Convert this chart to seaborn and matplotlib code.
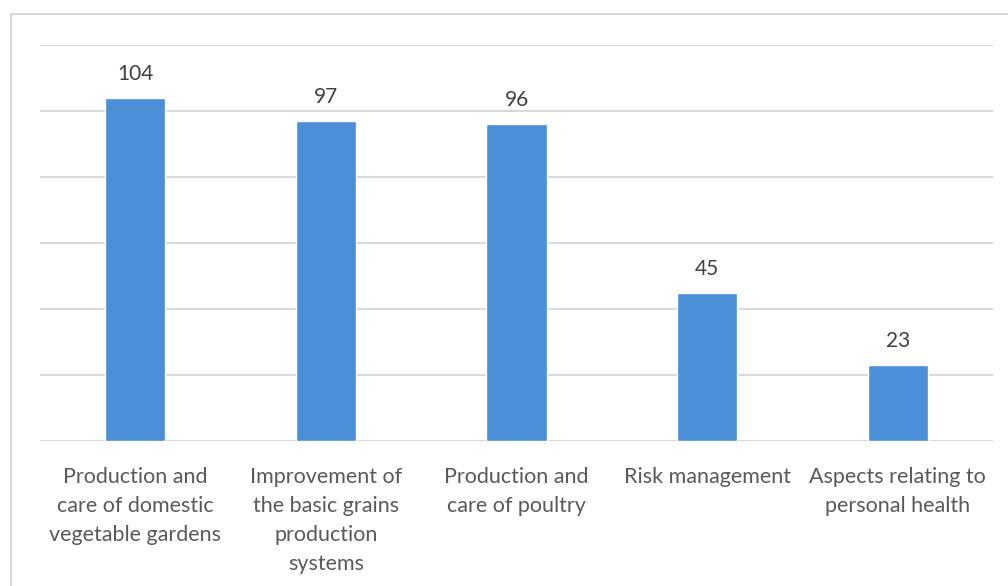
import matplotlib
matplotlib.use("Agg")
import matplotlib.pyplot as plt
import seaborn as sns
import pandas as pd
from matplotlib.patches import Rectangle

categories = [
    "Production and\ncare of domestic\nvegetable gardens",
    "Improvement of\nthe basic grains\nproduction\nsystems",
    "Production and\ncare of poultry",
    "Risk management",
    "Aspects relating to\npersonal health",
]
counts = [104, 97, 96, 45, 23]
gridline_values = [0, 20, 40, 60, 80, 100, 120]

df = pd.DataFrame({"topic": categories, "count": counts})

sns.set_theme(style="white")
plt.rcParams["font.family"] = ["Lato", "DejaVu Sans"]

W, H = 1008, 586
fig = plt.figure(figsize=(W / 100, H / 100), dpi=100)
fig.patch.set_facecolor("white")

# outer chart frame
fig.patches.append(Rectangle((11 / W, -0.1), 1.2, 1.1 - 14 / H,
                             transform=fig.transFigure, fill=False,
                             edgecolor="#d0d0d0", linewidth=1.2))

left, right = 40 / W, 993 / W
bottom, top = 1 - 441 / H, 1 - 45 / H
ax = fig.add_axes([left, bottom, right - left, top - bottom])

bar_color = "#4A8FD8"
sns.barplot(data=df, x="topic", y="count", color=bar_color, width=0.315,
            saturation=1, ax=ax, zorder=3)

ax.set_ylim(0, 120)
ax.set_xlim(-0.5, len(categories) - 0.5)
ax.set_yticks(gridline_values)
ax.yaxis.grid(True, color="#d9d9d9", linewidth=1.5, zorder=0)
ax.set_axisbelow(True)
ax.tick_params(axis="y", left=False, labelleft=False)
ax.tick_params(axis="x", bottom=False, pad=13, labelsize=15.5,
               labelcolor="#595959")
for lbl in ax.get_xticklabels():
    lbl.set_linespacing(1.56)
    lbl.set_verticalalignment("top")
ax.set_xlabel("")
ax.set_ylabel("")
for side in ["top", "right", "left", "bottom"]:
    ax.spines[side].set_visible(False)

for container in ax.containers:
    ax.bar_label(container, labels=[str(v) for v in counts], padding=10,
                 fontsize=15, color="#404040")

fig.savefig("out.png", dpi=100, facecolor="white")
